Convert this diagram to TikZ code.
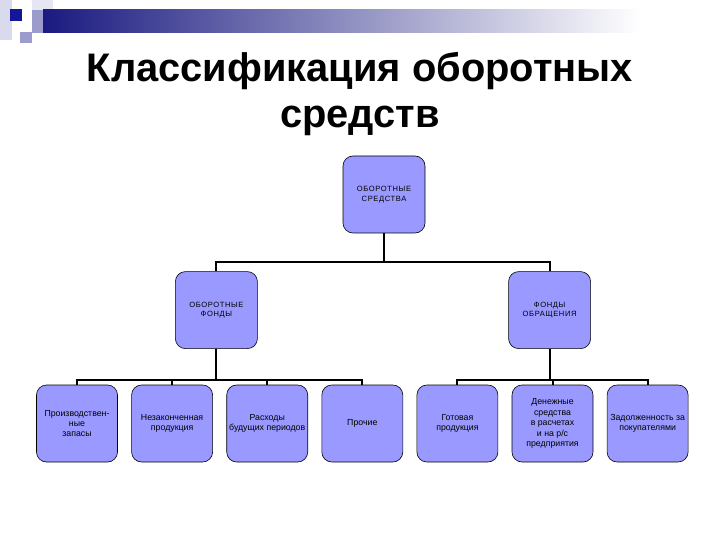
\documentclass[tikz,border=0pt]{standalone}
\usepackage{fontspec}
\setmainfont{Liberation Sans}
\newfontfamily\capsfont[LetterSpace=8]{Liberation Sans}
\usepackage{xcolor}
\usepackage{tikz}
\usetikzlibrary{positioning,calc}
\definecolor{boxfill}{HTML}{9999FF}
\definecolor{navy}{HTML}{1A1A80}
\definecolor{lavender}{HTML}{9C9CCC}
\definecolor{pale}{HTML}{DADAEE}
\tikzset{
    block/.style={rectangle, draw=black, line width=0.6bp, rounded corners=10bp, fill=boxfill, minimum width=81bp, minimum height=77bp, inner sep=1bp, align=center, font=\fontsize{8.8}{10.5}\selectfont},
    capsbox/.style={block, minimum width=82bp, font=\capsfont\fontsize{7.6}{10}\selectfont},
    link/.style={line width=2bp, color=black},
    heading/.style={align=center, inner sep=0pt, font=\bfseries\fontsize{40}{47}\selectfont}
}

\begin{document}
\begin{tikzpicture}[x=1bp, y=-1bp, node distance=38bp]
\useasboundingbox (0,0) rectangle (720,540);

% Header bar
\fill[pale] (0,0) rectangle (12,40);
\fill[pale!70] (32,0) rectangle (53,22);
\shade[left color=navy, right color=white] (43,10) rectangle (640,33);
\fill[white] (640,10) rectangle (720,33);
\fill[lavender] (32,10) rectangle (43,33);
\fill[navy!80!blue] (10,9) rectangle (22,21);
\fill[lavender] (20,32) rectangle (32,43);

% Title
\node[heading] (title) at (360,94) {Классификация оборотных\\средств};

% Top level
\node[capsbox] (os) at (384,194.5) {ОБОРОТНЫЕ\\СРЕДСТВА};

% Second level
\node[capsbox, below left=38bp and 85bp of os] (of) {ОБОРОТНЫЕ\\ФОНДЫ};
\node[capsbox, below right=38bp and 83bp of os] (fo) {ФОНДЫ\\ОБРАЩЕНИЯ};

\draw[link] (os.south) -- ++(0,29) -| (of.north);
\draw[link] (os.south) -- ++(0,29) -| (fo.north);

% Bottom level
\node[block] (zap) at (77,423.5) {Производствен-\\ные\\запасы};
\node[block, right=13.5bp of zap] (np) {Незаконченная\\продукция};
\node[block, right=13.5bp of np] (rbp) {Расходы\\будущих периодов};
\node[block, right=13.5bp of rbp] (pr) {Прочие};
\node[block, right=13.5bp of pr] (gp) {Готовая\\продукция};
\node[block, right=13.5bp of gp] (ds) {Денежные\\средства\\в расчетах\\и на р/с\\предприятия};
\node[block, right=13.5bp of ds] (zp) {Задолженность за\\покупателями};

\draw[link] (of.south) -- ++(0,31) -| (zap.north);
\draw[link] (of.south) -- ++(0,31) -| (np.north);
\draw[link] (of.south) -- ++(0,31) -| (rbp.north);
\draw[link] (of.south) -- ++(0,31) -| (pr.north);
\draw[link] (fo.south) -- ++(0,31) -| (gp.north);
\draw[link] (fo.south) -- ++(0,31) -| (ds.north);
\draw[link] (fo.south) -- ++(0,31) -| (zp.north);

\end{tikzpicture}
\end{document}
